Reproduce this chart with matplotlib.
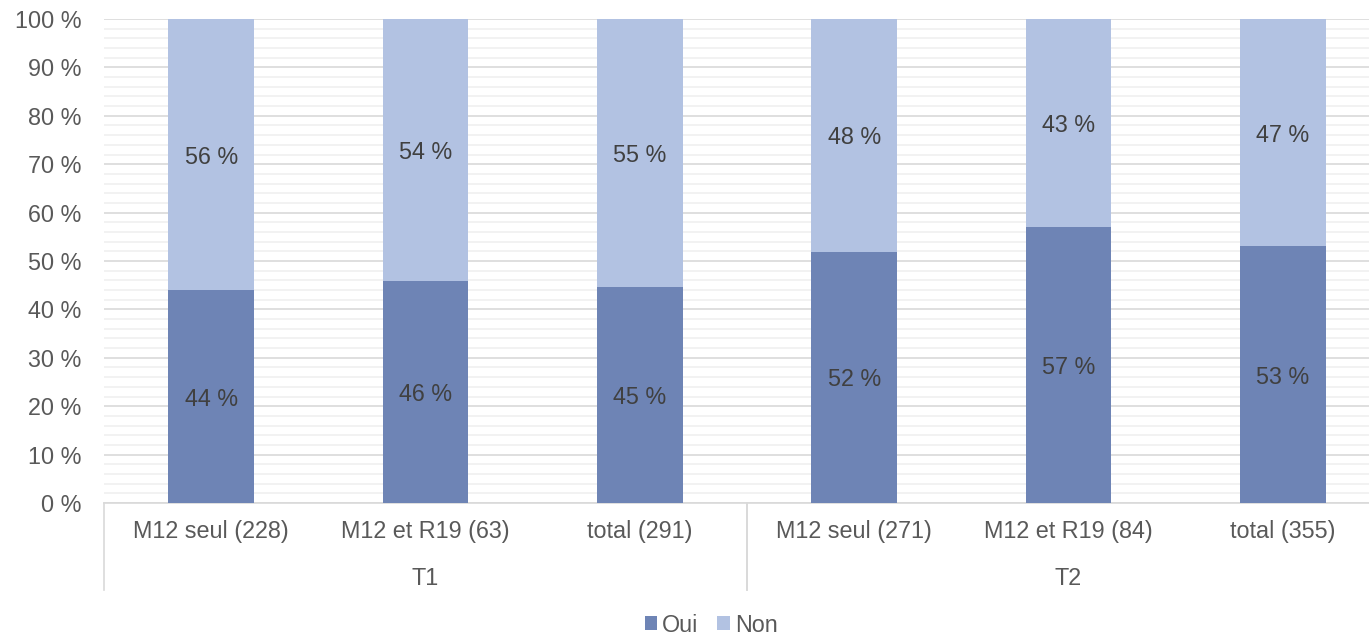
import numpy as np
import matplotlib.pyplot as plt
from matplotlib.transforms import blended_transform_factory
from matplotlib.ticker import MultipleLocator, FuncFormatter

categories = ["M12 seul (228)", "M12 et R19 (63)", "total (291)",
              "M12 seul (271)", "M12 et R19 (84)", "total (355)"]
groups = ["T1", "T2"]
group_sizes = [3, 3]
oui = [44.0, 45.9, 44.6, 51.9, 57.1, 53.0]
non = [56.0, 54.1, 55.4, 48.1, 42.9, 47.0]

c_oui = "#6e84b5"
c_non = "#b2c2e2"
txt = "#595959"
plt.rcParams["font.family"] = ["Liberation Sans", "DejaVu Sans"]
fs = 16.8

fig = plt.figure(figsize=(13.69, 6.35), dpi=100)
W, H = 1369, 635
ax = fig.add_axes([104 / W, 1 - 503 / H, (1390 - 104) / W, (503 - 19) / H])

x = np.arange(len(categories))
bw = 0.4
ax.bar(x, oui, bw, color=c_oui, label="Oui", zorder=3)
ax.bar(x, non, bw, bottom=oui, color=c_non, label="Non", zorder=3)

for i in range(len(x)):
    ax.text(x[i], oui[i] / 2, f"{round(oui[i])} %", ha="center",
            va="center_baseline", fontsize=fs, color="#404040", zorder=4)
    ax.text(x[i], oui[i] + non[i] / 2, f"{round(non[i])} %", ha="center",
            va="center_baseline", fontsize=fs, color="#404040", zorder=4)

ax.set_xlim(-0.5, len(x) - 0.5)
ax.set_ylim(0, 100)
ax.yaxis.set_major_locator(MultipleLocator(10))
ax.yaxis.set_minor_locator(MultipleLocator(2))
ax.yaxis.set_major_formatter(FuncFormatter(lambda v, p: f"{int(v)} %"))
ax.grid(axis="y", which="major", color="#d9d9d9", lw=1.2, zorder=1)
ax.grid(axis="y", which="minor", color="#f0f0f0", lw=1.2, zorder=0)
ax.tick_params(axis="y", which="both", length=0, labelsize=fs, labelcolor=txt, pad=16)
for s in ["top", "right", "left"]:
    ax.spines[s].set_visible(False)
ax.spines["bottom"].set_color("#d9d9d9")
ax.spines["bottom"].set_linewidth(1.2)

ax.set_xticks(x)
ax.set_xticklabels(categories)
ax.tick_params(axis="x", length=0, labelsize=fs, labelcolor=txt, pad=12)

# group labels and separators
tr = blended_transform_factory(ax.transData, ax.transAxes)
sep_y = -(590 - 503) / (503 - 19)
lab_y = -(576 - 503) / (503 - 19)
start = 0
for g, n in zip(groups, group_sizes):
    ax.text(start + (n - 1) / 2, lab_y, g, transform=tr, ha="center",
            va="center_baseline", fontsize=fs, color=txt)
    for b in (start - 0.5, start + n - 0.5):
        ax.plot([b, b], [0, sep_y], transform=tr, color="#d9d9d9", lw=1.2,
                clip_on=False)
    start += n

ax.legend(loc="center", bbox_to_anchor=(711 / W, 1 - 625 / H),
          bbox_transform=fig.transFigure, ncol=2, frameon=False, fontsize=fs,
          labelcolor=txt, handlelength=0.55, handleheight=0.55,
          handletextpad=0.2, columnspacing=0.8)

fig.savefig("out.png", dpi=100)
